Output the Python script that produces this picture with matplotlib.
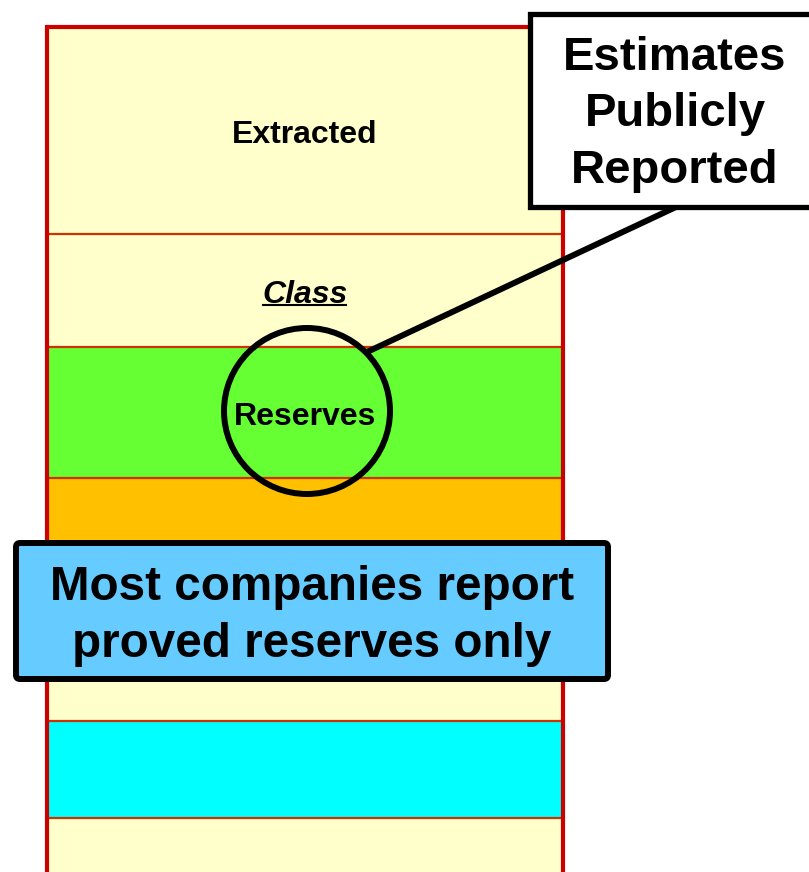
import matplotlib
matplotlib.use("Agg")
import matplotlib.pyplot as plt
from matplotlib.patches import Circle, FancyBboxPatch, Rectangle

# band boundaries down the column (pixel rows, top of each band)
band_tops = [27, 234, 347, 478, 610, 721, 818]
band_bottoms = [234, 347, 478, 610, 721, 818, 900]
band_colors = ["#FFFFCC", "#FFFFCC", "#66FF33", "#FFC000", "#FFFFCC", "#00FFFF", "#FFFFCC"]
band_labels = ["Extracted", "Class", "Reserves", "", "", "", ""]

callout_lines = ["Estimates", "Publicly", "Reported"]
note_lines = ["Most companies report", "proved reserves only"]

plt.rcParams["font.family"] = ["Liberation Sans", "DejaVu Sans"]

fig = plt.figure(figsize=(8.09, 8.72), dpi=100)
ax = fig.add_axes([0, 0, 1, 1])
ax.set_xlim(0, 809)
ax.set_ylim(872, 0)
ax.axis("off")

COL_L, COL_R = 47, 563
col_x = (COL_L + COL_R) / 2
col_w = COL_R - COL_L

heights = [b - t for t, b in zip(band_tops, band_bottoms)]
ax.bar([col_x] * len(heights), heights, bottom=band_tops, width=col_w,
       color=band_colors, edgecolor="none", zorder=1)

# thin separators between bands
ax.hlines(band_tops[1:], COL_L, COL_R, color="#CC3300", lw=1.6, zorder=2)

# red outline of the column
ax.plot([COL_L, COL_L, COL_R, COL_R], [900, band_tops[0], band_tops[0], 900],
        color="#CC0000", lw=3.0, solid_joinstyle="miter", zorder=3)

# labels
ax.text(col_x, 135, band_labels[0], ha="center", va="center",
        fontsize=23, fontweight="bold", zorder=4)
t_class = ax.text(col_x, 295, band_labels[1], ha="center", va="center",
                  fontsize=23, fontweight="bold", fontstyle="italic", zorder=4)

# magnifier circle on the reserves band
ax.plot([367, 676], [352, 207], color="black", lw=4.3, zorder=5)
ax.add_patch(Circle((307, 411), 83, facecolor="none", edgecolor="black",
                    lw=4.3, zorder=6))
ax.text(305, 417, band_labels[2], ha="center", va="center",
        fontsize=23, fontweight="bold", zorder=7)

# callout box top right
ax.add_patch(Rectangle((530, 14), 300, 193, facecolor="white",
                       edgecolor="black", lw=3.8, zorder=8))
for i, line in enumerate(callout_lines):
    ax.text(675, 58 + i * 56.5, line, ha="center", va="center",
            fontsize=34, fontweight="bold", zorder=9)

# blue note box
ax.add_patch(FancyBboxPatch((16, 543), 592, 136,
                            boxstyle="round,pad=0,rounding_size=4",
                            facecolor="#66CCFF", edgecolor="black",
                            lw=4.3, zorder=8))
for i, line in enumerate(note_lines):
    ax.text(312, 587 + i * 57, line, ha="center", va="center",
            fontsize=34.3, fontweight="bold", zorder=9)

# underline for "Class"
fig.canvas.draw()
bb = t_class.get_window_extent().transformed(ax.transData.inverted())
ax.plot([bb.x0 + 1, bb.x1 - 2], [305, 305], color="black", lw=1.5, zorder=4)

fig.savefig("out.png", dpi=100, facecolor="white")
